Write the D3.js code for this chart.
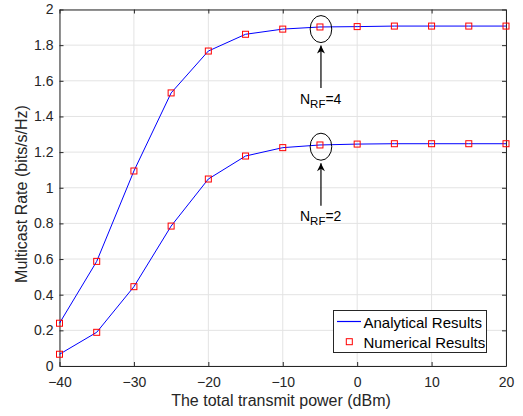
<!DOCTYPE html>
<html><head><meta charset="utf-8">
<script src="https://cdn.jsdelivr.net/npm/d3@7"></script>
<style>body{margin:0;background:#fff;} text{font-family:"Liberation Sans",Arial,sans-serif;}</style>
</head><body>
<svg id="c" width="523" height="416"></svg>
<script>
const power = [-40,-35,-30,-25,-20,-15,-10,-5,0,5,10,15,20];
const rateNRF4 = [0.240,0.587,1.094,1.532,1.767,1.861,1.890,1.902,1.904,1.907,1.907,1.907,1.907];
const rateNRF2 = [0.066,0.189,0.445,0.785,1.049,1.178,1.225,1.240,1.245,1.247,1.247,1.247,1.247];
const xTicks = [-40,-30,-20,-10,0,10,20];
const yTicks = [0,0.2,0.4,0.6,0.8,1,1.2,1.4,1.6,1.8,2];
const annotations = [{x:-5,y:1.907,label:"4"},{x:-5,y:1.247,label:"2"}];

const svg = d3.select("#c");
const L=59.5,R=506,T=9.5,B=366;
const x = d3.scaleLinear().domain([-40,20]).range([L,R]);
const y = d3.scaleLinear().domain([0,2]).range([B,T]);
const axisCol="#262626";

// grid
svg.append("g").selectAll("line").data(xTicks).join("line")
  .attr("x1",d=>x(d)).attr("x2",d=>x(d)).attr("y1",T).attr("y2",B)
  .attr("stroke","#e3e3e3").attr("stroke-width",1);
svg.append("g").selectAll("line").data(yTicks).join("line")
  .attr("y1",d=>y(d)).attr("y2",d=>y(d)).attr("x1",L).attr("x2",R)
  .attr("stroke","#e3e3e3").attr("stroke-width",1);

// axes
const fs="14px";
const gx = svg.append("g").attr("transform",`translate(0,${B})`)
  .call(d3.axisBottom(x).tickValues(xTicks).tickSizeInner(-4).tickSizeOuter(0).tickPadding(11).tickFormat(d3.format("d")));
const gy = svg.append("g").attr("transform",`translate(${L},0)`)
  .call(d3.axisLeft(y).tickValues(yTicks).tickSizeInner(-4).tickSizeOuter(0).tickPadding(6).tickFormat(d=>String(d)));
const gt = svg.append("g").attr("transform",`translate(0,${T})`)
  .call(d3.axisTop(x).tickValues(xTicks).tickSizeInner(-4).tickSizeOuter(0).tickFormat(""));
const gr = svg.append("g").attr("transform",`translate(${R},0)`)
  .call(d3.axisRight(y).tickValues(yTicks).tickSizeInner(-4).tickSizeOuter(0).tickFormat(""));
[gx,gy,gt,gr].forEach(g=>{
  g.attr("font-size",null).attr("font-family",null);
  g.select(".domain").attr("stroke",axisCol);
  g.selectAll(".tick line").attr("stroke",axisCol);
  g.selectAll(".tick text").attr("fill",axisCol).style("font-size",fs);
});

// lines
const line = d3.line().x((d,i)=>x(power[i])).y(d=>y(d));
[rateNRF4,rateNRF2].forEach(s=>{
  svg.append("path").datum(s).attr("d",line).attr("fill","none").attr("stroke","#0000ff").attr("stroke-width",1);
});
const ms=6;
[rateNRF4,rateNRF2].forEach(s=>{
  svg.append("g").selectAll("rect").data(s).join("rect")
    .attr("x",(d,i)=>x(power[i])-ms/2).attr("y",d=>y(d)-ms/2)
    .attr("width",ms).attr("height",ms).attr("fill","none").attr("stroke","#ff0000").attr("stroke-width",1);
});

// annotations
svg.append("defs").append("marker").attr("id","ah").attr("viewBox","0 0 10 10")
  .attr("refX",10).attr("refY",5).attr("markerWidth",10).attr("markerHeight",8)
  .attr("markerUnits","userSpaceOnUse").attr("orient","auto")
  .append("path").attr("d","M0,0 L10,5 L0,10 L3,5 Z").attr("fill","#000");
annotations.forEach(a=>{
  const cx=x(a.x)+1, cy=y(a.y)+3;
  svg.append("ellipse").attr("cx",cx).attr("cy",cy).attr("rx",10.8).attr("ry",13.5)
    .attr("fill","none").attr("stroke","#000").attr("stroke-width",1);
  svg.append("line").attr("x1",cx).attr("x2",cx).attr("y1",cy+59).attr("y2",cy+16.5)
    .attr("stroke","#000").attr("stroke-width",1.2).attr("marker-end","url(#ah)");
  const t = svg.append("text").attr("x",cx-21).attr("y",cy+74.5).attr("fill","#000").style("font-size","14px");
  t.append("tspan").text("N");
  t.append("tspan").attr("dy",4).style("font-size","11.5px").text("RF");
  t.append("tspan").attr("dy",-4).text("="+a.label);
});

// legend
const lg = svg.append("g");
lg.append("rect").attr("x",333.5).attr("y",310.5).attr("width",153).attr("height",42)
  .attr("fill","#fff").attr("stroke",axisCol).attr("stroke-width",1);
lg.append("line").attr("x1",337).attr("x2",361).attr("y1",321.5).attr("y2",321.5).attr("stroke","#0000ff").attr("stroke-width",1.2);
lg.append("rect").attr("x",349.3-3).attr("y",341.7-3).attr("width",6).attr("height",6).attr("fill","none").attr("stroke","#ff0000");
lg.append("text").attr("x",363.5).attr("y",327.5).style("font-size","15px").attr("fill","#000").text("Analytical Results");
lg.append("text").attr("x",363.5).attr("y",347.5).style("font-size","15px").attr("fill","#000").text("Numerical Results");

// labels
svg.append("text").attr("x",281).attr("y",406).attr("text-anchor","middle").style("font-size","16px").attr("fill",axisCol)
  .text("The total transmit power (dBm)");
svg.append("text").attr("transform",`translate(27,194) rotate(-90)`).attr("text-anchor","middle").style("font-size","16px").attr("fill",axisCol)
  .text("Multicast Rate (bits/s/Hz)");
</script>
</body></html>
